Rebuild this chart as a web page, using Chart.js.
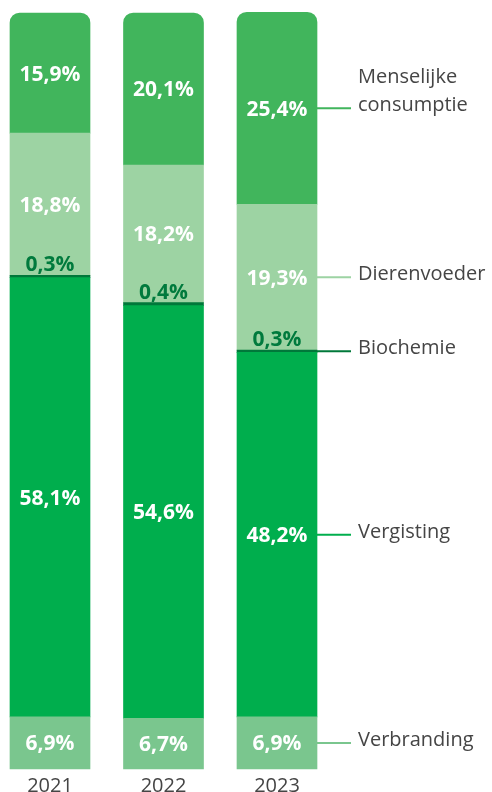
<!DOCTYPE html>
<html>
<head>
<meta charset="utf-8">
<script src="https://cdn.jsdelivr.net/npm/chart.js@4"></script>
<style>
    body { margin: 0; background: #fff; }
    #wrap { width: 492px; height: 792px; }
</style>
</head>
<body>
<div id="wrap"><canvas id="chart" width="492" height="792"></canvas></div>
<script>
// Data (percentages per year, bottom to top of the stack)
const years = ['2021', '2022', '2023'];
const verbranding = [6.9, 6.7, 6.9];
const vergisting = [58.1, 54.6, 48.2];
const biochemie = [0.3, 0.4, 0.3];
const dierenvoeder = [18.8, 18.2, 19.3];
const menselijk = [15.9, 20.1, 25.4];

const FONT = '"Open Sans", "Noto Sans", sans-serif';
const TEXT_GREY = '#454545';

function pct(v) {
    return v.toFixed(1).replace('.', ',') + '%';
}

const series = [
    { label: 'Verbranding', lines: ['Verbranding'], data: verbranding, color: '#7ac68e' },
    { label: 'Vergisting', lines: ['Vergisting'], data: vergisting, color: '#00ae4d' },
    { label: 'Biochemie', lines: ['Biochemie'], data: biochemie, color: '#00783a', dark: true },
    { label: 'Dierenvoeder', lines: ['Dierenvoeder'], data: dierenvoeder, color: '#9dd3a3' },
    { label: 'Menselijke consumptie', lines: ['Menselijke', 'consumptie'], data: menselijk, color: '#41b55c', top: true }
];

// Percent labels inside the bars + leader labels on the right
const labelPlugin = {
    id: 'labelPlugin',
    afterDatasetsDraw(chart) {
        const ctx = chart.ctx;
        ctx.save();
        series.forEach((s, di) => {
            const meta = chart.getDatasetMeta(di);
            meta.data.forEach((bar, i) => {
                const p = bar.getProps(['x', 'y', 'base', 'width'], true);
                const mid = (p.y + p.base) / 2;
                ctx.font = 'bold 21px ' + FONT;
                ctx.textAlign = 'center';
                ctx.textBaseline = 'middle';
                if (s.dark) {
                    ctx.fillStyle = '#007a3d';
                    ctx.fillText(pct(s.data[i]), p.x, mid - 11);
                } else {
                    ctx.fillStyle = '#ffffff';
                    ctx.fillText(pct(s.data[i]), p.x, mid + 1.5);
                }

                // leader line + name next to the last bar
                if (i === meta.data.length - 1) {
                    const x0 = p.x + p.width / 2;
                    ctx.strokeStyle = s.color;
                    ctx.lineWidth = 2;
                    ctx.beginPath();
                    ctx.moveTo(x0, mid);
                    ctx.lineTo(x0 + 34, mid);
                    ctx.stroke();

                    ctx.font = '20px ' + FONT;
                    ctx.fillStyle = TEXT_GREY;
                    ctx.textAlign = 'left';
                    ctx.textBaseline = 'alphabetic';
                    const n = s.lines.length;
                    s.lines.forEach((t, li) => {
                        ctx.fillText(t, x0 + 41, mid + 3 - (n - 1 - li) * 28);
                    });
                }
            });
        });
        ctx.restore();
    }
};

new Chart(document.getElementById('chart'), {
    type: 'bar',
    data: {
        labels: years,
        datasets: series.map(s => ({
            label: s.label,
            data: s.data,
            backgroundColor: s.color,
            borderWidth: 0,
            borderSkipped: false,
            borderRadius: s.top ? { topLeft: 10, topRight: 10, bottomLeft: 0, bottomRight: 0 } : 0,
            barThickness: 80,
            clip: false
        }))
    },
    options: {
        responsive: false,
        animation: false,
        layout: {
            padding: { left: 50, right: 215, top: 13, bottom: 0 }
        },
        plugins: {
            legend: { display: false },
            tooltip: { enabled: false }
        },
        scales: {
            x: {
                stacked: true,
                offset: false,
                grid: { display: false },
                border: { display: false },
                ticks: {
                    padding: -3,
                    color: TEXT_GREY,
                    font: { family: FONT, size: 20 }
                },
                afterFit(scale) {
                    scale.height = 23;
                }
            },
            y: {
                stacked: true,
                display: false,
                min: 0,
                max: 100
            }
        }
    },
    plugins: [labelPlugin]
});
</script>
</body>
</html>
